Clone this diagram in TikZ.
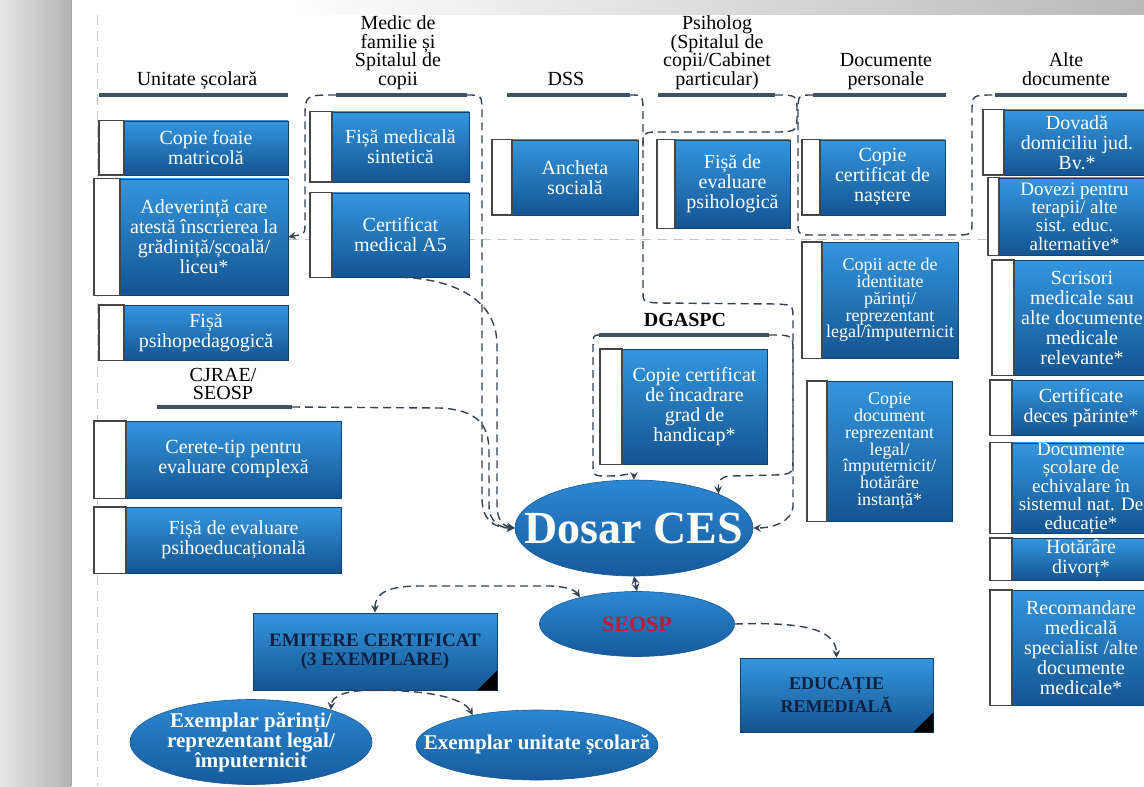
\documentclass[tikz,border=0pt]{standalone}
\usepackage{fontspec}
\setmainfont{Liberation Serif}
\usepackage{tikz}
\usetikzlibrary{shapes.geometric, arrows, positioning}

\definecolor{boxtop}{RGB}{52,150,222}
\definecolor{boxbot}{RGB}{20,84,145}
\definecolor{ovaltop}{RGB}{44,136,210}
\definecolor{ovalbot}{RGB}{22,90,156}
\definecolor{ruleclr}{RGB}{60,82,104}
\definecolor{linkclr}{RGB}{52,66,82}
\definecolor{navy}{RGB}{18,32,64}
\definecolor{seospred}{RGB}{192,28,58}

\newcommand{\docfont}{\fontsize{10}{10}\selectfont}
\newcommand{\docsmall}{\fontsize{9}{8.4}\selectfont}
\newcommand{\doctight}{\fontsize{9.5}{9.2}\selectfont}
\newcommand{\headfont}{\fontsize{10}{9.3}\selectfont}

\begin{document}
\begin{tikzpicture}[
    x=0.5pt, y=-0.5pt,
    sz/.style 2 args={minimum width=#1*0.5pt, minimum height=#2*0.5pt},
    doc/.style={rectangle, top color=boxtop, bottom color=boxbot, draw=boxbot!80!black, line width=0.3pt, text=white, font=\docfont, align=center, inner sep=0pt},
    task/.style={doc, text=navy, font=\bfseries\fontsize{9.5}{9.5}\selectfont},
    tab/.style={draw=gray!55!black, fill=white, line width=0.8pt},
    head/.style={font=\headfont, align=center, anchor=south, inner sep=0pt, text depth=2pt},
    rule/.style={draw=ruleclr, line width=1.6pt},
    link/.style={->, >=stealth, draw=linkclr, line width=0.7pt, dash pattern=on 4pt off 2.5pt},
    guide/.style={draw=gray!45, line width=0.4pt, dash pattern=on 5pt off 3pt},
    oval/.style={ellipse, top color=ovaltop, bottom color=ovalbot, draw=ovalbot, line width=0.3pt, inner sep=0pt},
    ovaltxt/.style={text=white, font=\bfseries\fontsize{10.5}{10}\selectfont, align=center, inner sep=0pt}
]
\useasboundingbox (0,0) rectangle (1144,786);
\fill[white] (0,0) rectangle (1144,786);

% Frame
\shade[left color=gray!20, right color=gray!60] (0,0) rectangle (71,786);
\draw[gray!70] (71,0) -- (71,786);
\shade[left color=white, right color=gray!55] (280,0) rectangle (1144,15);
\draw[guide] (97,15) -- (97,786);
\draw[guide] (97,239) -- (1144,239);

% Headings
\node[head] (hscoala) at (197,90) {Unitate școlară};
\node[head] (hmedic) at (398,90) {Medic de\\familie și\\Spitalul de\\copii};
\node[head] (hdss) at (566,90) {DSS};
\node[head] (hpsih) at (717,90) {Psiholog\\(Spitalul de\\copii/Cabinet\\particular)};
\node[head] (hpers) at (886,90) {Documente\\personale};
\node[head] (halte) at (1066,90) {Alte\\documente};
\node[head] (hcjrae) at (223,404) {CJRAE/\\SEOSP};
\node[head, font=\headfont\bfseries] (hdgaspc) at (685,331) {DGASPC};

\coordinate (ul1a) at (99,95);   \coordinate (ul1b) at (288,95);
\coordinate (ul2a) at (336,95);  \coordinate (ul2b) at (467,95);
\coordinate (ul3a) at (507,95);  \coordinate (ul3b) at (630,95);
\coordinate (ul4a) at (658,95);  \coordinate (ul4b) at (775,95);
\coordinate (ul5a) at (813,95);  \coordinate (ul5b) at (946,95);
\coordinate (ul6a) at (995,95);  \coordinate (ul6b) at (1127,95);
\coordinate (ul7a) at (157,407); \coordinate (ul7b) at (292,407);
\coordinate (ul8a) at (599,335); \coordinate (ul8b) at (769,335);
\foreach \i in {1,...,8}
    \draw[rule] (ul\i a) -- (ul\i b);

% Unitate scolara
\node[doc, sz={164}{54}] (b1) at (206,148) {Copie foaie\\matricolă};
\node[doc, sz={168}{116}] (b2) at (204,237) {Adeverință care\\atestă înscrierea la\\grădiniță/școală/\\liceu*};
\node[doc, sz={164}{55}] (b3) at (206,332.5) {Fișă\\psihopedagogică};

% CJRAE / SEOSP
\node[doc, sz={215}{77}] (b4) at (233.5,459.5) {Cerete-tip pentru\\evaluare complexă};
\node[doc, sz={215}{66}] (b5) at (233.5,540) {Fișă de evaluare\\psihoeducațională};

% Medic de familie
\node[doc, sz={137}{70}] (m1) at (400.5,147) {Fișă medicală\\sintetică};
\node[doc, sz={137}{84}] (m2) at (400.5,235) {Certificat\\medical A5};

% DSS
\node[doc, sz={126}{75}] (d1) at (575,177.5) {Ancheta\\socială};

% Psiholog
\node[doc, sz={115}{88}] (p1) at (732.5,184) {Fișă de\\evaluare\\psihologică};

% Documente personale
\node[doc, sz={125}{75}] (c1) at (882.5,177.5) {Copie\\certificat de\\naștere};
\node[doc, sz={136}{116}, font=\docsmall] (c2) at (890,300) {Copii acte de\\identitate\\părinți/\\reprezentant\\legal/împuternicit};
\node[doc, sz={125}{140}, font=\docsmall] (c3) at (889.5,451) {Copie\\document\\reprezentant\\legal/\\împuternicit/\\hotărâre\\instanță*};

% DGASPC
\node[doc, sz={145}{115}] (g1) at (694.5,406.5) {Copie certificat\\de încadrare\\grad de\\handicap*};

% Alte documente
\node[doc, sz={146}{65}] (a1) at (1077,142.5) {Dovadă\\domiciliu jud.\\Bv.*};
\node[doc, sz={151}{77}, font=\doctight] (a2) at (1074.5,216.5) {Dovezi pentru\\terapii/ alte\\sist. educ.\\alternative*};
\node[doc, sz={136}{115}] (a3) at (1082,317.5) {Scrisori\\medicale sau\\alte documente\\medicale\\relevante*};
\node[doc, sz={138}{55}] (a4) at (1081,407.5) {Certificate\\deces părinte*};
\node[doc, sz={138}{90}, font=\doctight] (a5) at (1081,488) {Documente\\școlare de\\echivalare în\\sistemul nat. De\\educație*};
\node[doc, sz={138}{42}] (a6) at (1081,559) {Hotărâre\\divorț*};
\node[doc, sz={138}{115}] (a7) at (1081,647.5) {Recomandare\\medicală\\specialist /alte\\documente\\medicale*};

\foreach \n/\w in {b1/12.5, b2/13, b3/12.5, b4/16, b5/16, m1/11, m2/11, d1/10, p1/9, c1/9, c2/10, c3/10, g1/11, a1/10.5, a2/5.5, a3/11, a4/11, a5/11, a6/11, a7/11}
    \draw[tab] ([xshift=-\w*1pt]\n.north west) rectangle (\n.south west);

% Dosar and outcomes
\node[oval, sz={238}{96}] (dosar) at (634,528) {};
\node[ovaltxt, font=\bfseries\fontsize{23}{23}\selectfont] (dosartxt) at (dosar) {Dosar CES};
\node[oval, sz={195}{65}] (seosp) at (637,624) {};
\node[ovaltxt, text=seospred, font=\bfseries\fontsize{11}{11}\selectfont] (seosptxt) at (seosp) {SEOSP};
\node[task, sz={244}{77}] (emit) at (375,651.5) {EMITERE CERTIFICAT\\(3 EXEMPLARE)};
\node[task, sz={193}{74}, font=\bfseries\fontsize{9}{9.5}\selectfont] (remed) at (836.5,695) {EDUCAȚIE\\REMEDIALĂ};
\fill[black] (emit.south east) -- ++(-20,0) -- ++(20,-20) -- cycle;
\fill[black] (remed.south east) -- ++(-20,0) -- ++(20,-20) -- cycle;
\node[oval, sz={242}{85}] (exp) at (251,742) {};
\node[ovaltxt] (exptxt) at (exp) {Exemplar părinți/\\reprezentant legal/\\împuternicit};
\node[oval, sz={242}{70}] (exu) at (537,745) {};
\node[ovaltxt] (exutxt) at (exu) {Exemplar unitate școlară};

% Links into the file
\draw[link] (ul2a) .. controls (305,95) .. (305,118) -- (305,222) .. controls (305,234) .. (b2.east);
\draw[link] (ul2b) .. controls (482,95) .. (482,115) -- (482,498) .. controls (482,520) and (494,528) .. (dosar.west);
\draw[link] (m2.south) .. controls (455,279) and (497,300) .. (497,345) -- (497,505) .. controls (497,520) and (503,526) .. (dosar.west);
\draw[link] (ul7b) -- (440,408) .. controls (478,410) and (489,425) .. (489,452) -- (489,505) .. controls (489,522) and (500,528) .. (dosar.west);
\draw[link] (ul3b) .. controls (643,95) .. (643,115) -- (643,290) .. controls (643,302) .. (658,303) -- (778,304) .. controls (793,305) .. (793,320) -- (793,505) .. controls (793,522) and (772,528) .. (dosar.east);
\draw[link,-] (ul4b) .. controls (797,95) .. (797,112) .. controls (797,131) .. (780,132) -- (660,132) .. controls (643,132) .. (643,150);
\draw[link,-] (ul5a) .. controls (798,95) .. (798,112) -- (798,220) .. controls (798,235) .. (813,235) -- (955,235) .. controls (972,235) .. (972,220) -- (972,112) .. controls (972,95) .. (ul6a);
\draw[link] (ul8a) .. controls (593,335) .. (593,352) -- (593,462) .. controls (593,476) .. (608,476) .. controls (625,476) and (634,472) .. (dosar.north);
\draw[link] (ul8b) .. controls (793,335) .. (793,352) -- (793,455) .. controls (793,474) .. (775,475) -- (732,476) .. controls (720,476) and (718,482) .. (dosar.22);

% Links out of the file
\draw[link, <->, solid] (dosar.south) -- (seosp.north);
\draw[link, <->] (emit.north) .. controls (375,592) and (390,586) .. (420,586) -- (548,586) .. controls (565,586) and (575,590) .. (seosp.155);
\draw[link] (seosp.east) .. controls (800,622) and (836,628) .. (remed.north);
\draw[link] (emit.south) .. controls (345,690) and (332,696) .. (exp.22);
\draw[link] (emit.south) .. controls (420,690) and (462,696) .. (exu.155);

\end{tikzpicture}
\end{document}
